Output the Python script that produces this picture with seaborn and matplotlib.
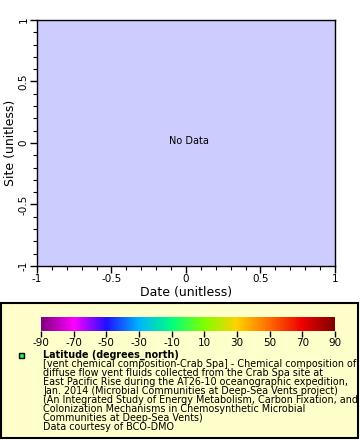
import numpy as np
import pandas as pd
import matplotlib
matplotlib.use("Agg")
import matplotlib.pyplot as plt
import seaborn as sns
from matplotlib.colors import LinearSegmentedColormap
from matplotlib.patches import Rectangle
from matplotlib.ticker import MultipleLocator

# empty dataset - the source plot shows "No Data"
dates = []
sites = []
latitudes = []

x_ticks = [-1, -0.5, 0, 0.5, 1]
y_ticks = [-1, -0.5, 0, 0.5, 1]
cbar_ticks = [-90, -70, -50, -30, -10, 10, 30, 50, 70, 90]

legend_title = "Latitude (degrees_north)"
legend_lines = [
    "[vent chemical composition-Crab Spa] - Chemical composition of",
    "diffuse flow vent fluids collected from the Crab Spa site at",
    "East Pacific Rise during the AT26-10 oceanographic expedition,",
    "Jan. 2014 (Microbial Communities at Deep-Sea Vents project)",
    "(An Integrated Study of Energy Metabolism, Carbon Fixation, and",
    "Colonization Mechanisms in Chemosynthetic Microbial",
    "Communities at Deep-Sea Vents)",
    "Data courtesy of BCO-DMO",
]

df = pd.DataFrame({"date": dates, "site": sites, "lat": latitudes}, dtype=float)

sns.set_style("ticks")
plt.rcParams["font.family"] = ["DejaVu Sans"]
plt.rcParams.update({"text.color": "black", "axes.labelcolor": "black",
                     "xtick.color": "black", "ytick.color": "black"})

# ERDDAP-like rainbow palette
cmap = LinearSegmentedColormap.from_list("rainbow2", [
    "#800080", "#ff00ff", "#2010ff", "#00b4ff", "#00ff80",
    "#80ff00", "#ffd200", "#ff6a00", "#f00000", "#800000"])

W, H = 360, 440
fig = plt.figure(figsize=(W / 100, H / 100), dpi=100)

# main axes
ax = fig.add_axes([37 / W, 1 - 266 / H, 298 / W, 246 / H])
ax.set_facecolor("#ccccff")
sns.scatterplot(data=df, x="date", y="site", ax=ax)
ax.set_xlim(-1, 1)
ax.set_ylim(-1, 1)
ax.set_xticks(x_ticks)
ax.set_yticks(y_ticks)
ax.set_xticklabels([f"{t:g}" for t in x_ticks], fontsize=7.5)
ax.set_yticklabels([f"{t:g}" for t in y_ticks], fontsize=7.5, rotation=90, va="center")
ax.xaxis.set_minor_locator(MultipleLocator(0.1))
ax.yaxis.set_minor_locator(MultipleLocator(0.1))
ax.tick_params(which="major", length=5, width=1, pad=1)
ax.tick_params(which="minor", length=3, width=0.8)
for s in ax.spines.values():
    s.set_linewidth(1)
    s.set_color("black")
ax.set_xlabel("Date (unitless)", fontsize=9, labelpad=1)
ax.set_ylabel("Site (unitless)", fontsize=9, labelpad=1)
ax.text(0.51, 0.51, "No Data", transform=ax.transAxes, ha="center", va="center", fontsize=7)

# legend box (behind the colorbar axes)
fig.patches.append(Rectangle((1 / W, 2 / H), 357 / W, 135 / H, transform=fig.transFigure,
                             facecolor="#ffffcc", edgecolor="black", linewidth=1.5, zorder=-1))

# colorbar
cax = fig.add_axes([41 / W, 1 - 331 / H, 294 / W, 14 / H])
grad = np.linspace(cbar_ticks[0], cbar_ticks[-1], 256).reshape(1, -1)
cax.imshow(grad, aspect="auto", cmap=cmap, extent=[cbar_ticks[0], cbar_ticks[-1], 0, 1])
cax.set_yticks([])
cax.set_xticks(cbar_ticks)
cax.set_xticklabels([str(t) for t in cbar_ticks], fontsize=7.5)
cax.tick_params(axis="x", length=4, width=1, pad=1)
for s in cax.spines.values():
    s.set_visible(False)

# legend entry
fig.patches.append(Rectangle((19 / W, 1 - 358 / H), 5 / W, 5 / H, transform=fig.transFigure,
                             facecolor="#33ee33", edgecolor="black", linewidth=1, zorder=2))
fig.text(43 / W, 1 - 355 / H, legend_title, fontsize=6.9, fontweight="bold", va="center")
for i, line in enumerate(legend_lines):
    fig.text(43 / W, 1 - (364 + i * 8.95) / H, line, fontsize=6.9, va="center")

fig.savefig("out.png", dpi=100)
